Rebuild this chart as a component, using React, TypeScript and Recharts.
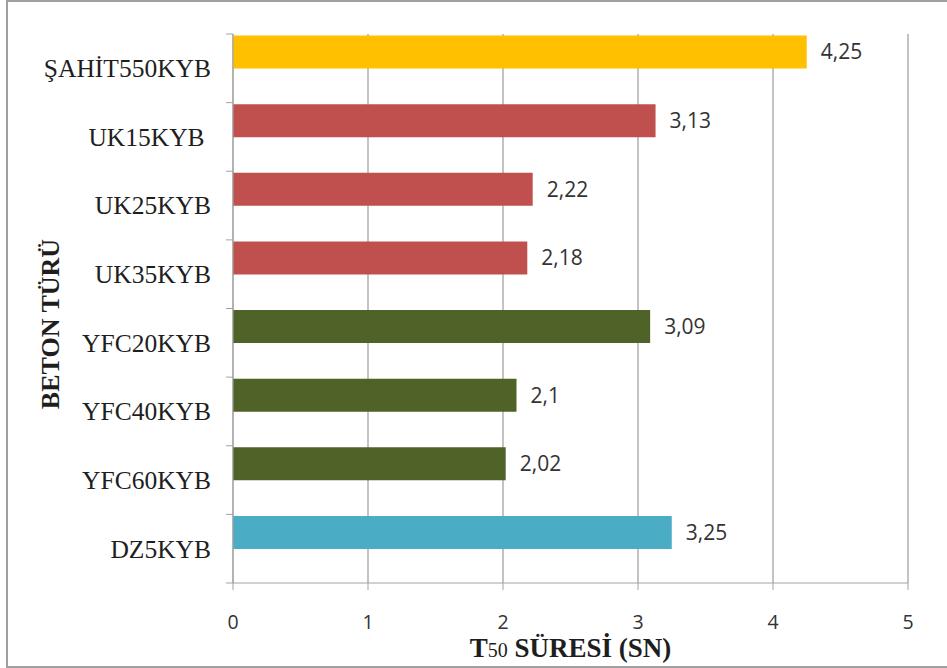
import { Bar, BarChart, CartesianGrid, Cell, LabelList, XAxis, YAxis } from "recharts";

// Beton türleri (yukarıdan aşağıya) ve T50 süreleri (sn)
const betonTurleri = [
  "ŞAHİT550KYB",
  "UK15KYB\u00A0",
  "UK25KYB",
  "UK35KYB",
  "YFC20KYB",
  "YFC40KYB",
  "YFC60KYB",
  "DZ5KYB",
];
const t50Sureleri = [4.25, 3.13, 2.22, 2.18, 3.09, 2.1, 2.02, 3.25];
const barRenkleri = [
  "#FFC000",
  "#C0504D",
  "#C0504D",
  "#C0504D",
  "#4F6228",
  "#4F6228",
  "#4F6228",
  "#4BACC6",
];
const xTicks = [0, 1, 2, 3, 4, 5];

const data = betonTurleri.map((tur, i) => ({ tur, sure: t50Sureleri[i], bos: null }));

const W = 947;
const H = 668;
const PLOT_TOP = 34;
const PLOT_BOTTOM = 583;
const PLOT_LEFT = 233;
const PLOT_RIGHT = 908;
const BAND = (PLOT_BOTTOM - PLOT_TOP) / betonTurleri.length;

const GRID = "#a3a3a3";
const SERIF = "'Liberation Serif', 'Times New Roman', serif";
const SANS = "'Open Sans', 'Noto Sans', sans-serif";

function CategoryTick({ x, y, payload, index }: any) {
  const last = index === betonTurleri.length - 1;
  return (
    <g>
      <line x1={x - 7} x2={x} y1={y - BAND / 2} y2={y - BAND / 2} stroke={GRID} />
      {last && <line x1={x - 7} x2={x} y1={y + BAND / 2} y2={y + BAND / 2} stroke={GRID} />}
      <text
        x={x - 22}
        y={y}
        dy="0.35em"
        textAnchor="end"
        fontFamily={SERIF}
        fontSize={25.5}
        fill="#1e1e1e"
      >
        {payload.value}
      </text>
    </g>
  );
}

function ValueTick({ x, y, payload }: any) {
  return (
    <text x={x} y={y + 32} dy="0.35em" textAnchor="middle" fontFamily={SANS} fontSize={19.5} fill="#333">
      {payload.value}
    </text>
  );
}

export default function App() {
  return (
    <div
      style={{
        position: "absolute",
        left: 0,
        top: 0,
        width: W,
        height: H,
        overflow: "hidden",
        background: "#fff",
      }}
    >
      <div
        style={{
          position: "absolute",
          left: 6,
          top: 0,
          width: W,
          height: 664,
          borderLeft: "2px solid #a0a0a0",
          borderTop: "2px solid #a0a0a0",
          borderBottom: "2px solid #a0a0a0",
        }}
      />
      <BarChart
        width={W}
        height={H}
        data={data}
        layout="vertical"
        margin={{ top: PLOT_TOP, right: W - PLOT_RIGHT, bottom: 0, left: 0 }}
        barCategoryGap="2.2%"
        barGap={0}
        style={{ position: "absolute", left: 0, top: 0 }}
      >
        <CartesianGrid horizontal={false} stroke={GRID} strokeWidth={1.3} />
        <XAxis
          type="number"
          domain={[0, 5]}
          ticks={xTicks}
          height={H - PLOT_BOTTOM}
          stroke={GRID}
          tickSize={7}
          tickMargin={0}
          tick={<ValueTick />}
          label={{
            content: ({ viewBox }: any) => (
              <text
                x={viewBox.x + viewBox.width / 2}
                y={viewBox.y + 74}
                textAnchor="middle"
                fontFamily={SERIF}
                fontWeight="bold"
                fontSize={27}
                fill="#1e1e1e"
              >
                T<tspan fontSize={20} fontWeight="normal">50</tspan> SÜRESİ (SN)
              </text>
            ),
          }}
        />
        <YAxis
          type="category"
          dataKey="tur"
          width={PLOT_LEFT}
          stroke={GRID}
          tickLine={false}
          tickSize={0}
          tickMargin={0}
          tick={<CategoryTick />}
          interval={0}
          label={{
            content: () => (
              <text
                transform="translate(59, 324) rotate(-90)"
                textAnchor="middle"
                fontFamily={SERIF}
                fontWeight="bold"
                fontSize={26}
                fill="#1e1e1e"
              >
                BETON TÜRÜ
              </text>
            ),
          }}
        />
        <Bar dataKey="sure" isAnimationActive={false}>
          {data.map((d, i) => (
            <Cell key={d.tur} fill={barRenkleri[i]} />
          ))}
          <LabelList
            dataKey="sure"
            position="right"
            offset={14}
            formatter={(v: any) => String(v).replace(".", ",")}
            fontFamily={SANS}
            fontSize={21}
            fill="#333"
          />
        </Bar>
        <Bar dataKey="bos" isAnimationActive={false} fill="none" />
      </BarChart>
    </div>
  );
}
